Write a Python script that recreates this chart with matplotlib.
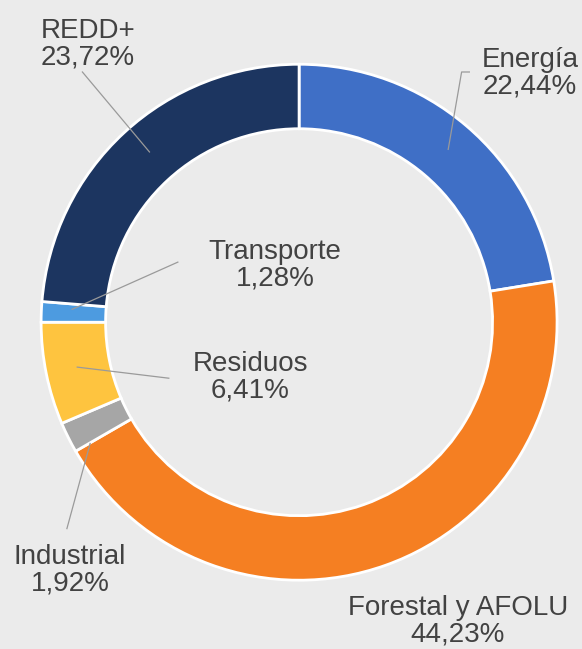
import matplotlib
matplotlib.use("Agg")
import matplotlib.pyplot as plt

categories = ["Energía", "Forestal y AFOLU", "Industrial", "Residuos", "Transporte", "REDD+"]
values = [22.44, 44.23, 1.92, 6.41, 1.28, 23.72]
value_labels = ["22,44%", "44,23%", "1,92%", "6,41%", "1,28%", "23,72%"]
colors = ["#3f6fc6", "#f57f22", "#a6a6a6", "#fec43f", "#4d9be0", "#1c3560"]

plt.rcParams['font.family'] = ['Liberation Sans', 'DejaVu Sans']

bg = "#ebebeb"
fig = plt.figure(figsize=(5.82, 6.49), dpi=100, facecolor=bg)
ax = fig.add_axes([0.0704, 0.106, 0.887, 0.795])
ax.set_facecolor(bg)

wedges, _ = ax.pie(values, colors=colors, startangle=90, counterclock=False,
                   radius=1.0,
                   wedgeprops=dict(width=0.25, edgecolor="white", linewidth=2))
ax.set_xlim(-1, 1)
ax.set_ylim(-1, 1)
ax.set_aspect("equal")
ax.axis("off")

# label positions (text center) and leader lines (text end -> ring point), in data units
label_pos = {
    "Energía": (0.895, 0.965),
    "Forestal y AFOLU": (0.616, -1.16),
    "Industrial": (-0.888, -0.96),
    "Residuos": (-0.19, -0.213),
    "Transporte": (-0.093, 0.221),
    "REDD+": (-0.818, 1.078),
}
leaders = {
    "Energía": [(0.66, 0.97), (0.63, 0.97), (0.578, 0.67)],
    "Industrial": [(-0.90, -0.80), (-0.81, -0.47)],
    "Residuos": [(-0.505, -0.217), (-0.86, -0.174)],
    "Transporte": [(-0.47, 0.233), (-0.88, 0.05)],
    "REDD+": [(-0.84, 0.97), (-0.58, 0.66)],
}
for cat, lab in zip(categories, value_labels):
    x, y = label_pos[cat]
    ax.text(x, y, f"{cat}\n{lab}", ha="center", va="center", fontsize=20,
            color="#424242", linespacing=1.03, clip_on=False)
    if cat in leaders:
        xs, ys = zip(*leaders[cat])
        ax.plot(xs, ys, color="#9a9a9a", lw=0.9, clip_on=False)

fig.savefig("out.png", dpi=100, facecolor=bg)
